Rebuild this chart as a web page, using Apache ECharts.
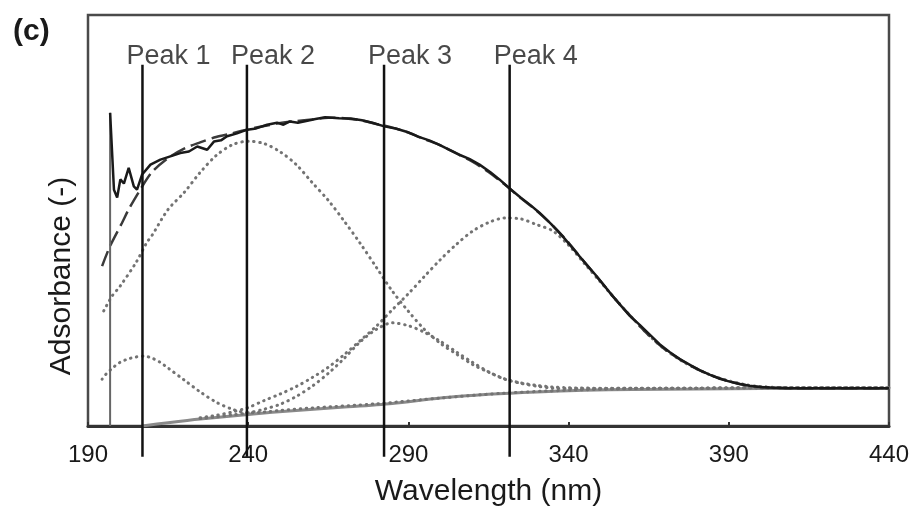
<!DOCTYPE html>
<html><head><meta charset="utf-8">
<script src="https://cdn.jsdelivr.net/npm/echarts@6/dist/echarts.min.js"></script>
<style>html,body{margin:0;padding:0;background:#fff}#c{width:915px;height:512px}</style>
</head><body><div id="c"></div>
<script>
const xTicks = [190, 240, 290, 340, 390, 440];
const peakNames = ['Peak 1', 'Peak 2', 'Peak 3', 'Peak 4'];
const peakPositions = [207, 239.6, 282.4, 321.6];
const peakLineRange = [-0.075, 0.879];

const spikeEdge = [[196.9,0],[196.9,0.762]];
const measured = [[196.9,0.762],[198.1,0.575],[199.1,0.556],[200.1,0.600],[201.2,0.590],[202.7,0.628],[204.3,0.583],[205.3,0.575],[206.9,0.612],[209.5,0.636],[212.6,0.648],[215.7,0.656],[218.8,0.664],[221.5,0.668],[224.1,0.680],[227.2,0.672],[229.3,0.692],[231.5,0.695],[233.4,0.705],[236.5,0.712],[239.7,0.721],[242.5,0.724],[245.9,0.733],[249,0.738],[251,0.733],[253,0.741],[255.5,0.738],[258.1,0.742],[261,0.747],[264,0.751],[268.4,0.749],[272,0.748],[275.5,0.744],[278.75,0.738],[282.5,0.729],[286,0.724],[289.4,0.716],[293,0.704],[296.5,0.695],[299.7,0.684],[302.5,0.673],[305.9,0.660],[309,0.650],[312.2,0.636],[315.5,0.618],[318.4,0.600],[321.6,0.578],[325,0.556],[328,0.538],[330.9,0.519],[334.5,0.492],[338.1,0.462],[343.4,0.413],[348.7,0.365],[353.75,0.316],[359.1,0.268],[362.2,0.246],[365.9,0.218],[368.4,0.199],[371.5,0.180],[374.7,0.163],[378,0.148],[380.9,0.136],[384,0.125],[387.2,0.115],[390.3,0.108],[393.4,0.102],[396.5,0.098],[399.7,0.095],[404,0.093],[409,0.092],[425,0.092],[440,0.092]];

const fitted = [[194.4,0.389],[196.9,0.438],[200.6,0.494],[202.7,0.527],[206.3,0.575],[210,0.618],[215,0.652],[220,0.675],[225,0.690],[230,0.703],[235,0.712],[240,0.722],[245,0.730],[250,0.737],[255,0.742],[260,0.746],[265,0.750],[270,0.749],[275,0.744],[280,0.735],[285,0.726],[290,0.714],[295,0.698],[300,0.683],[305,0.663],[310,0.643],[315,0.618],[320,0.588],[325,0.555],[330,0.524],[335,0.488],[340,0.446],[345,0.398],[350,0.352],[355,0.305],[360,0.262],[365,0.221],[370,0.187],[375,0.161],[380,0.139],[385,0.122],[390,0.109],[395,0.100],[400,0.095],[405,0.093],[410,0.092],[420,0.092],[440,0.092]];

const baseline = [[207,0.000],[215,0.008],[225,0.017],[240,0.028],[255,0.038],[270,0.046],[285,0.055],[300,0.068],[315,0.077],[330,0.083],[345,0.087],[360,0.089],[380,0.090],[400,0.091],[440,0.091]];

const peak1 = [[194.4,0.114],[195,0.121],[197.5,0.140],[200,0.155],[202.5,0.163],[205,0.168],[207.5,0.170],[210,0.165],[212.5,0.155],[215,0.141],[220,0.112],[225,0.083],[230,0.058],[235,0.041],[240,0.032],[245,0.034],[250,0.038],[260,0.044],[280,0.054],[300,0.068],[320,0.080],[340,0.087],[360,0.091],[380,0.092],[400,0.093],[440,0.093]];

const peak2 = [[194.9,0.280],[197.5,0.316],[200,0.340],[205,0.398],[208.4,0.447],[210,0.464],[215,0.527],[220,0.568],[225,0.617],[230,0.658],[235,0.684],[240,0.693],[245,0.687],[250,0.667],[255,0.636],[260,0.592],[265,0.549],[270,0.498],[275,0.444],[280,0.386],[285,0.328],[290,0.279],[295,0.235],[300,0.201],[305,0.175],[310,0.150],[315,0.131],[320,0.114],[325,0.104],[330,0.097],[335,0.092],[340,0.091],[350,0.091],[360,0.092],[380,0.092],[400,0.093],[440,0.093]];

const peak3 = [[225,0.018],[230,0.022],[235,0.027],[240,0.032],[245,0.041],[250,0.053],[255,0.072],[260,0.097],[265,0.128],[270,0.165],[275,0.205],[280,0.235],[285,0.251],[290,0.244],[295,0.228],[300,0.206],[305,0.180],[310,0.155],[315,0.132],[320,0.115],[325,0.105],[330,0.099],[335,0.095],[340,0.093],[350,0.092],[360,0.092],[380,0.092],[400,0.093],[440,0.093]];

const peak4 = [[225,0.020],[230,0.026],[235,0.034],[240,0.045],[245,0.062],[250,0.078],[255,0.096],[260,0.118],[265,0.143],[270,0.174],[275,0.208],[280,0.243],[285,0.283],[290,0.322],[295,0.364],[300,0.405],[305,0.442],[310,0.474],[315,0.495],[320,0.506],[325,0.504],[330,0.490],[335,0.475],[340,0.440],[345,0.395],[350,0.350],[355,0.305],[360,0.262],[365,0.221],[370,0.187],[375,0.160],[380,0.139],[385,0.122],[390,0.110],[395,0.101],[400,0.096],[410,0.093],[420,0.093],[440,0.093]];

const FONT = "'Liberation Sans', Arial, sans-serif";
const TXT = '#1a1a1a';
const chart = echarts.init(document.getElementById('c'), null, {renderer: 'canvas'});

const dotted = {color: '#737373', width: 3, type: [0.5, 5.5], cap: 'round'};
function gaussSeries(name, data) {
  return {name, type: 'line', data, showSymbol: false, symbol: 'none', smooth: 0.3,
    lineStyle: dotted, z: 3, silent: true};
}

const peakLineSeries = peakPositions.map((p, i) => ({
  name: peakNames[i] + ' line', type: 'line', clip: false, symbol: 'none', showSymbol: false,
  data: [[p, peakLineRange[0]], [p, peakLineRange[1]]],
  lineStyle: {color: '#111', width: 2.5}, z: 8, silent: true
}));

const labelData = peakPositions.map((p, i) => [p, peakLineRange[1], peakNames[i]]);

chart.setOption({
  animation: false,
  backgroundColor: '#fff',
  title: {text: '(c)', left: 8, top: 12,
    textStyle: {fontFamily: FONT, fontSize: 30, fontWeight: 'bold', color: TXT}},
  grid: {left: 88, right: 26, top: 15, bottom: 85, show: true, borderColor: '#4a4a4a', borderWidth: 2.5},
  xAxis: {
    type: 'value', min: xTicks[0], max: xTicks[xTicks.length - 1], interval: xTicks[1] - xTicks[0],
    name: 'Wavelength (nm)', nameLocation: 'middle', nameGap: 51,
    nameTextStyle: {fontFamily: FONT, fontSize: 30, color: TXT},
    axisLine: {lineStyle: {color: '#333', width: 3}},
    axisTick: {inside: true, length: 4, lineStyle: {color: '#333', width: 2}},
    axisLabel: {fontFamily: FONT, fontSize: 24, color: TXT, margin: 17},
    splitLine: {show: false}
  },
  yAxis: {
    type: 'value', min: 0, max: 1,
    axisLine: {show: false}, axisTick: {show: false}, axisLabel: {show: false}, splitLine: {show: false}
  },
  graphic: [{type: 'text', x: 62, y: 276, rotation: Math.PI / 2,
    style: {text: 'Adsorbance (-)', font: "30px 'Liberation Sans', Arial, sans-serif", fill: TXT,
      textAlign: 'center', textVerticalAlign: 'middle'}}],
  series: [
    {name: 'Baseline', type: 'line', data: baseline, showSymbol: false, symbol: 'none', smooth: 0.3,
      lineStyle: {color: '#8a8a8a', width: 3}, z: 2, silent: true},
    gaussSeries('Peak 1 fit', peak1),
    gaussSeries('Peak 2 fit', peak2),
    gaussSeries('Peak 3 fit', peak3),
    gaussSeries('Peak 4 fit', peak4),
    {name: 'Fitted', type: 'line', data: fitted, showSymbol: false, symbol: 'none', smooth: 0.3,
      lineStyle: {color: '#3a3a3a', width: 2.5, type: [16, 6]}, z: 4, silent: true},
    {name: 'Spike edge', type: 'line', data: spikeEdge, showSymbol: false, symbol: 'none',
      lineStyle: {color: '#666', width: 2}, z: 5, silent: true},
    {name: 'Measured', type: 'line', data: measured, showSymbol: false, symbol: 'none',
      lineStyle: {color: '#1a1a1a', width: 2.5}, z: 5, silent: true},
    ...peakLineSeries,
    {name: 'Peak labels', type: 'scatter', data: labelData, symbolSize: 0, clip: false, z: 9, silent: true,
      label: {show: true, position: 'top', distance: 0, align: 'left', offset: [-16, 5],
        formatter: p => p.value[2], fontFamily: FONT, fontSize: 27, color: TXT}}
  ]
});
</script></body></html>
